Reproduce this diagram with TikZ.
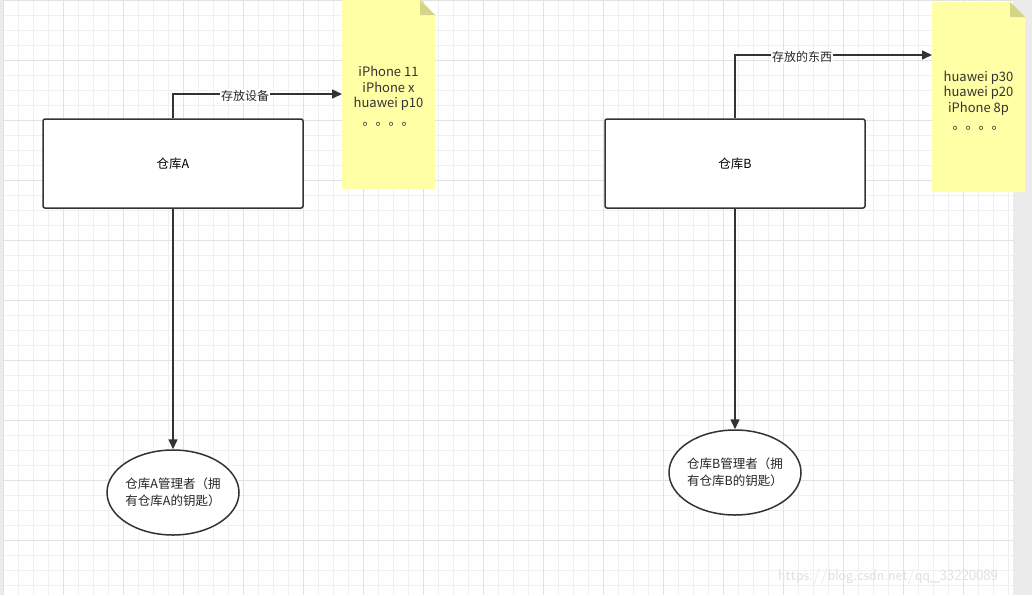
\documentclass[tikz,border=0pt]{standalone}
\usepackage{fontspec}
\setmainfont{Noto Sans CJK SC}
\usetikzlibrary{arrows.meta,shapes.geometric}
\definecolor{gridminor}{HTML}{F0F0F0}
\definecolor{gridmajor}{HTML}{E2E2E2}
\definecolor{notefill}{HTML}{FFFFA6}
\definecolor{notefold}{HTML}{D6D48A}
\definecolor{linec}{HTML}{333333}
\definecolor{stripc}{HTML}{EBEBEB}
\tikzset{
  box/.style={draw=linec, line width=1.5pt, rounded corners=2pt, fill=white, inner sep=0pt},
  oval/.style={draw=linec, line width=1.5pt, ellipse, fill=white, inner sep=0pt},
  conn/.style={draw=linec, line width=1.5pt, -{Triangle[length=10pt,width=9pt]}},
  lbl/.style={fill=white, inner sep=1pt, font=\fontsize{12}{14}\selectfont, text=black!85},
  notetxt/.style={font=\fontsize{13}{15.5}\selectfont, text=black!80, align=center},
  ovaltxt/.style={font=\fontsize{12.5}{17}\selectfont, text=black!85, align=left}
}
\begin{document}
\begin{tikzpicture}[x=1pt,y=-1pt]
\useasboundingbox (0,0) rectangle (1032,595);
\fill[white] (0,0) rectangle (1032,595);
% grid
\foreach \i in {0,...,67} {
  \pgfmathsetmacro{\xx}{3+15*\i}
  \draw[gridminor, line width=1pt] (\xx,0) -- (\xx,595);
}
\foreach \j in {0,...,39} {
  \pgfmathsetmacro{\yy}{15*\j}
  \draw[gridminor, line width=1pt] (3,\yy) -- (1013,\yy);
}
\foreach \i in {0,...,16} {
  \pgfmathsetmacro{\xx}{3+60*\i}
  \draw[gridmajor, line width=1pt] (\xx,0) -- (\xx,595);
}
\foreach \j in {0,...,9} {
  \pgfmathsetmacro{\yy}{60*\j}
  \draw[gridmajor, line width=1pt] (3,\yy) -- (1013,\yy);
}
\fill[stripc] (0,0) rectangle (3,595);
\fill[stripc] (1013,0) rectangle (1032,595);

% notes
\fill[notefill] (342,0) -- (420,0) -- (435,15) -- (435,189) -- (342,189) -- cycle;
\fill[notefold] (420,0) -- (435,15) -- (420,15) -- cycle;
\fill[notefill] (932,2) -- (1010,2) -- (1025,17) -- (1025,192) -- (932,192) -- cycle;
\fill[notefold] (1010,2) -- (1025,17) -- (1010,17) -- cycle;
\coordinate (noteA) at (342,94);
\coordinate (noteB) at (932,55);
\node[notetxt] (ntA) at (388.5,96) {iPhone 11\\iPhone x\\huawei p10\\[2pt]。。。。};
\node[notetxt] (ntB) at (978.5,100.5) {huawei p30\\huawei p20\\iPhone 8p\\[2pt]。。。。};

% boxes
\node[box, minimum width=260pt, minimum height=89pt, font=\fontsize{12.5}{14}\selectfont] (A) at (173,163.5) {仓库A};
\node[box, minimum width=260pt, minimum height=89pt, font=\fontsize{12.5}{14}\selectfont] (B) at (735,163.5) {仓库B};

% ellipses
\node[oval, minimum width=132pt, minimum height=85pt] (EA) at (173,492.5) {};
\node[ovaltxt] at (EA.center) {仓库A管理者（拥\\有仓库A的钥匙）};
\node[oval, minimum width=132pt, minimum height=85pt] (EB) at (735,472.5) {};
\node[ovaltxt] at (EB.center) {仓库B管理者（拥\\有仓库B的钥匙）};

% connectors
\draw[conn] (A.north) |- (noteA);
\draw[conn] (B.north) |- (noteB);
\node[lbl] (la) at (245,96) {存放设备};
\node[lbl] (lb) at (802,57) {存放的东西};
\draw[conn] (A.south) -- (EA.north);
\draw[conn] (B.south) -- (EB.north);

% watermark
\node[font=\fontsize{15.5}{17}\selectfont\sffamily, text=black!12] (wm) at (888,577) {https://blog.csdn.net/qq\_33220089};
\end{tikzpicture}
\end{document}
